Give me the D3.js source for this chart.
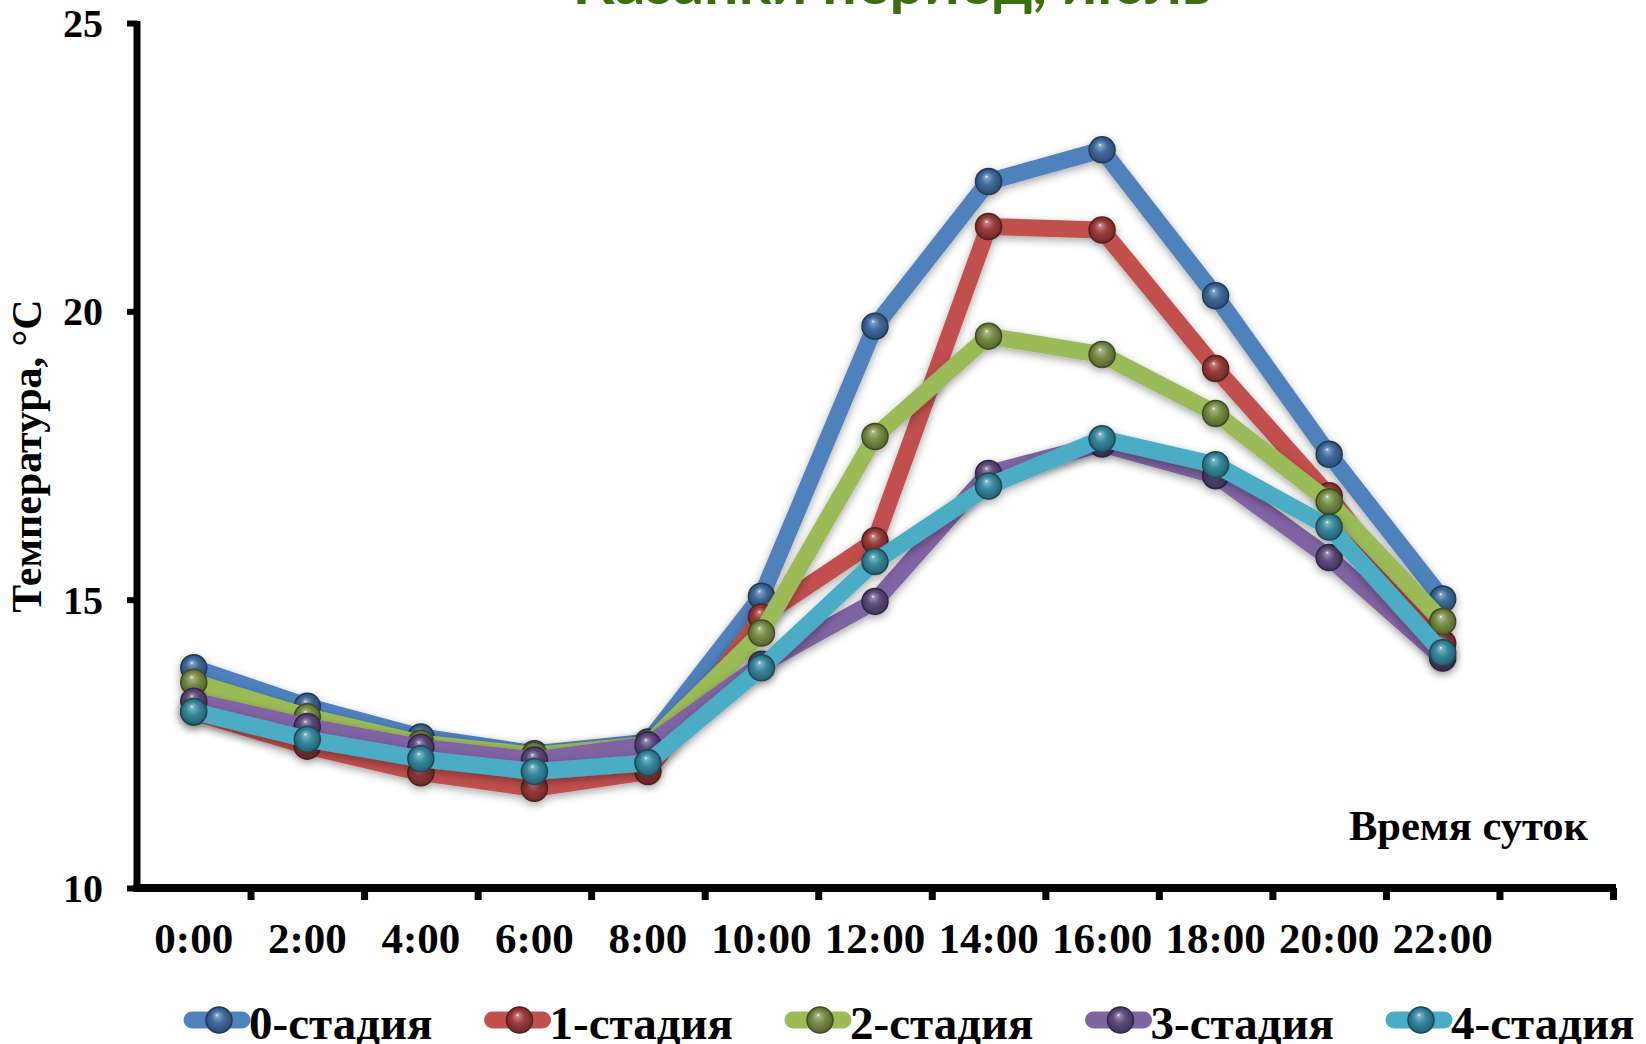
<!DOCTYPE html>
<html lang="ru">
<head>
<meta charset="utf-8">
<title>Температура по времени суток</title>
<script src="https://cdn.jsdelivr.net/npm/d3@7"></script>
<style>
  html, body { margin: 0; padding: 0; background: #ffffff; }
  svg { display: block; }
  .tick-label { font-family: "Liberation Serif", "Times New Roman", serif; font-weight: bold; fill: #000; }
</style>
</head>
<body>
<svg id="chart" width="1646" height="1044"></svg>
<script>
// Hourly readings (°C) for each stage
const hours = ["0:00", "2:00", "4:00", "6:00", "8:00", "10:00", "12:00", "14:00", "16:00", "18:00", "20:00", "22:00"];
const stageNames = ["0-стадия", "1-стадия", "2-стадия", "3-стадия", "4-стадия"];
const stage0 = [13.82, 13.15, 12.62, 12.33, 12.53, 15.06, 19.74, 22.25, 22.80, 20.27, 17.52, 15.01];
const stage1 = [13.05, 12.46, 12.00, 11.73, 12.02, 14.70, 16.02, 21.47, 21.41, 19.01, 16.80, 14.24];
const stage2 = [13.57, 12.97, 12.51, 12.30, 12.49, 14.42, 17.83, 19.57, 19.25, 18.23, 16.70, 14.62];
const stage3 = [13.24, 12.80, 12.44, 12.22, 12.48, 13.88, 14.97, 17.19, 17.70, 17.15, 15.73, 13.99];
const stage4 = [13.06, 12.58, 12.24, 12.02, 12.17, 13.82, 15.66, 16.97, 17.79, 17.34, 16.26, 14.08];
const yTicks = [10, 15, 20, 25];

const lineColors = ["#4f81bd", "#c0504d", "#9bbb59", "#8064a2", "#4bacc6"];
const markerColors = ["#3e6c9e", "#9d3c3a", "#788f45", "#5f4a7e", "#36899f"];

const seriesData = [stage0, stage1, stage2, stage3, stage4].map((vals, i) => ({
  name: stageNames[i], values: vals, line: lineColors[i], marker: markerColors[i], idx: i
}));

const svg = d3.select("#chart");
const defs = svg.append("defs");

// soft shadow under lines and spheres
const shadow = defs.append("filter").attr("id", "shadow")
  .attr("x", "-10%").attr("y", "-10%").attr("width", "120%").attr("height", "120%");
shadow.append("feDropShadow").attr("dx", 0).attr("dy", 3).attr("stdDeviation", 4)
  .attr("flood-color", "#000").attr("flood-opacity", 0.35);

// glossy sphere gradients for the markers
seriesData.forEach(s => {
  const base = d3.color(s.marker);
  const g = defs.append("radialGradient").attr("id", "sphere" + s.idx)
    .attr("cx", "50%").attr("cy", "50%").attr("r", "55%")
    .attr("fx", "42%").attr("fy", "30%");
  g.append("stop").attr("offset", "0%").attr("stop-color", "#ffffff").attr("stop-opacity", 0.95);
  g.append("stop").attr("offset", "12%").attr("stop-color", d3.interpolateRgb(base, "#ffffff")(0.35));
  g.append("stop").attr("offset", "45%").attr("stop-color", base.formatHex());
  g.append("stop").attr("offset", "85%").attr("stop-color", base.darker(0.8).formatHex());
  g.append("stop").attr("offset", "100%").attr("stop-color", base.darker(1.6).formatHex());
});

// scales: 13 category slots, the last one left empty
const x = d3.scaleBand().domain(d3.range(hours.length + 1)).range([137, 1613]).paddingInner(0).paddingOuter(0);
const xEdge = d3.scaleLinear().domain([0, hours.length + 1]).range([137, 1613]);
const y = d3.scaleLinear().domain([10, 25]).range([888, 23]);
const cx = i => x(i) + x.bandwidth() / 2;

// title (sits at the very top edge)
svg.append("text")
  .attr("x", 892).attr("y", 4)
  .attr("text-anchor", "middle")
  .style("font-family", "Lato, 'Open Sans', sans-serif")
  .style("font-weight", "bold")
  .style("font-size", "61px")
  .style("fill", "#3a6e0f")
  .text("Казанки период, июль");

// y axis
const yAxis = svg.append("g").attr("transform", "translate(137,0)")
  .call(d3.axisLeft(y).tickValues(yTicks).tickSize(10).tickSizeOuter(0).tickPadding(24));
yAxis.select(".domain").attr("stroke", "#000").attr("stroke-width", 7)
  .attr("d", `M0,${y(25) - 2}V${y(10) + 4}`);
yAxis.selectAll(".tick line").attr("stroke", "#000").attr("stroke-width", 6);
yAxis.selectAll(".tick text").attr("class", "tick-label").style("font-size", "40px")
  .attr("dy", "0.34em");

// x axis: ticks between categories
const xTicksG = svg.append("g").attr("transform", "translate(0,888)")
  .call(d3.axisBottom(xEdge).tickValues(d3.range(1, hours.length + 2)).tickFormat("").tickSize(12).tickSizeOuter(0));
xTicksG.select(".domain").attr("stroke", "#000").attr("stroke-width", 8)
  .attr("d", `M${xEdge(0) - 3.5},0H${xEdge(hours.length + 1) + 3}`);
xTicksG.selectAll(".tick line").attr("stroke", "#000").attr("stroke-width", 7);

// x axis labels at category centres
const xLabels = svg.append("g").attr("transform", "translate(0,888)")
  .call(d3.axisBottom(x).tickValues(d3.range(hours.length)).tickFormat(i => hours[i]).tickSize(0).tickPadding(0));
xLabels.select(".domain").remove();
xLabels.selectAll(".tick text").attr("class", "tick-label").style("font-size", "43px")
  .attr("y", 65).attr("dy", 0);

// axis titles
svg.append("text")
  .attr("class", "tick-label")
  .attr("transform", "translate(41,456) rotate(-90)")
  .attr("text-anchor", "middle")
  .style("font-size", "42px")
  .text("Температура, °C");

svg.append("text")
  .attr("class", "tick-label")
  .attr("x", 1588).attr("y", 840)
  .attr("text-anchor", "end")
  .style("font-size", "42.5px")
  .text("Время суток");

// series
const line = d3.line().x((d, i) => cx(i)).y(d => y(d)).curve(d3.curveLinear);
const plot = svg.append("g");
seriesData.forEach(s => {
  const g = plot.append("g").attr("filter", "url(#shadow)");
  g.append("path")
    .attr("d", line(s.values))
    .attr("fill", "none")
    .attr("stroke", s.line)
    .attr("stroke-width", 17)
    .attr("stroke-linejoin", "round")
    .attr("stroke-linecap", "butt");
  g.selectAll("circle").data(s.values).join("circle")
    .attr("cx", (d, i) => cx(i))
    .attr("cy", d => y(d))
    .attr("r", 13)
    .attr("fill", `url(#sphere${s.idx})`)
    .attr("stroke", d3.color(s.marker).darker(1.8).formatHex())
    .attr("stroke-width", 1.5);
});

// legend
const legend = svg.append("g");
const legendStep = 300.5;
seriesData.forEach((s, i) => {
  const lx = 184 + i * legendStep;
  const ly = 1020;
  const item = legend.append("g");
  item.append("line")
    .attr("x1", lx + 8).attr("x2", lx + 58).attr("y1", ly).attr("y2", ly)
    .attr("stroke", s.line).attr("stroke-width", 17).attr("stroke-linecap", "round");
  item.append("circle")
    .attr("cx", lx + 35).attr("cy", ly).attr("r", 13)
    .attr("fill", `url(#sphere${s.idx})`)
    .attr("stroke", d3.color(s.marker).darker(1.8).formatHex())
    .attr("stroke-width", 1.5);
  item.append("text")
    .attr("class", "tick-label")
    .attr("x", lx + 65).attr("y", 1039)
    .style("font-size", "47px")
    .text(s.name);
});
</script>
</body>
</html>
